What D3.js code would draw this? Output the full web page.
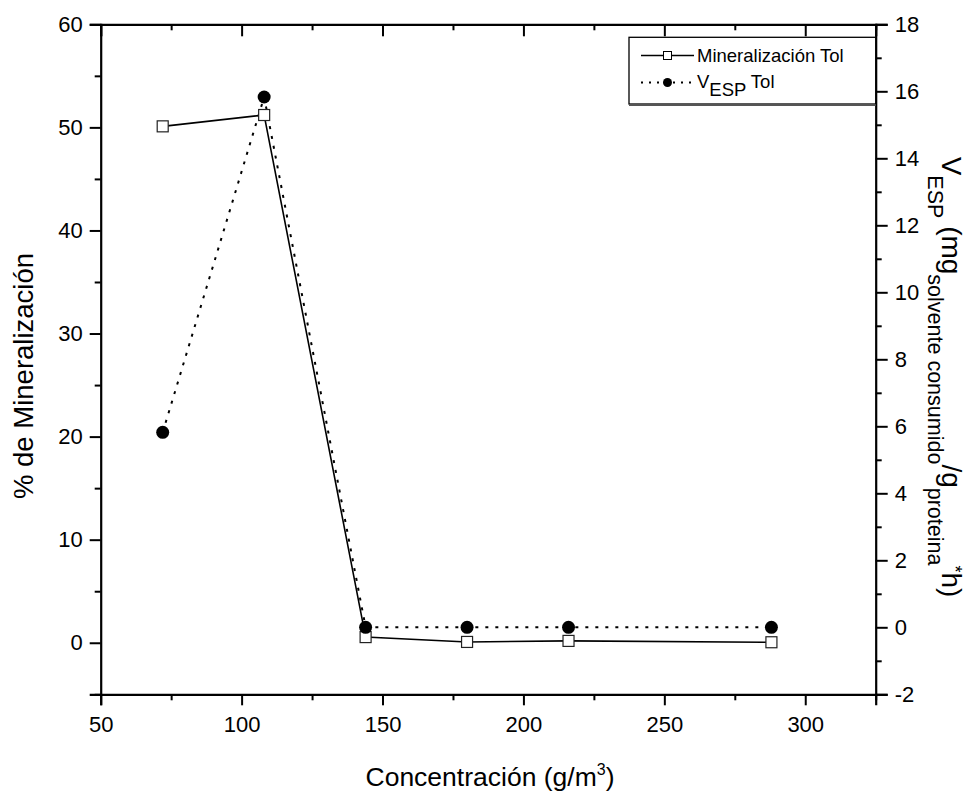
<!DOCTYPE html>
<html><head><meta charset="utf-8">
<script src="https://cdn.jsdelivr.net/npm/d3@7"></script>
<style>
body{margin:0;background:#fff;}
svg{display:block;font-family:"Liberation Sans",Arial,sans-serif;}
</style></head><body>
<svg id="chart" width="969" height="795"></svg>
<script>
const concentrations = [72, 108, 144, 180, 216, 288];
const mineralizacion = [50.1, 51.2, 0.55, 0.08, 0.18, 0.05];
const vEsp = [5.82, 15.83, 0, 0, 0, 0];
const xTicks = [50, 100, 150, 200, 250, 300];
const xMinor = [75, 125, 175, 225, 275, 325];
const yLeftTicks = [0, 10, 20, 30, 40, 50, 60];
const yLeftMinor = [-5, 5, 15, 25, 35, 45, 55];
const yRightTicks = [-2, 0, 2, 4, 6, 8, 10, 12, 14, 16, 18];
const yRightMinor = [-1, 1, 3, 5, 7, 9, 11, 13, 15, 17];

const svg = d3.select("#chart");
const L = 100.7, R = 875.7, T = 24.3, B = 694.3;
const FONT = "'Liberation Sans', Arial, sans-serif";
const x = d3.scaleLinear().domain([50, 325]).range([L, R]);
const yL = d3.scaleLinear().domain([-5, 60]).range([B, T]);
const yR = d3.scaleLinear().domain([-2, 18]).range([B, T]);

function styleAxis(g){
  g.attr("font-family", FONT);
  g.select(".domain").attr("stroke","#000").attr("stroke-width",2.2);
  g.selectAll(".tick line").attr("stroke","#000").attr("stroke-width",2);
  g.selectAll(".tick text").attr("fill","#000").style("font-size","22px").style("font-family",FONT);
}
// bottom
const gB = svg.append("g").attr("transform",`translate(0,${B})`)
  .call(d3.axisBottom(x).tickValues(xTicks).tickSize(11).tickPadding(11).tickFormat(d3.format("d")));
styleAxis(gB);
const gBm = svg.append("g").attr("transform",`translate(0,${B})`)
  .call(d3.axisBottom(x).tickValues(xMinor).tickSize(6).tickFormat(""));
styleAxis(gBm); gBm.select(".domain").remove();
// top
const gT = svg.append("g").attr("transform",`translate(0,${T})`)
  .call(d3.axisBottom(x).tickValues(xTicks).tickSize(12).tickFormat(""));
styleAxis(gT);
const gTm = svg.append("g").attr("transform",`translate(0,${T})`)
  .call(d3.axisBottom(x).tickValues(xMinor).tickSize(6).tickFormat(""));
styleAxis(gTm); gTm.select(".domain").remove();
// left
const gL = svg.append("g").attr("transform",`translate(${L},0)`)
  .call(d3.axisLeft(yL).tickValues(yLeftTicks).tickSize(11).tickPadding(7).tickFormat(d3.format("d")));
styleAxis(gL);
const gLm = svg.append("g").attr("transform",`translate(${L},0)`)
  .call(d3.axisLeft(yL).tickValues(yLeftMinor).tickSize(6).tickFormat(""));
styleAxis(gLm); gLm.select(".domain").remove();
// right
const gR = svg.append("g").attr("transform",`translate(${R},0)`)
  .call(d3.axisRight(yR).tickValues(yRightTicks).tickSize(12).tickPadding(7).tickFormat(d3.format("d")));
styleAxis(gR);
gR.selectAll(".tick text").text(d => d < 0 ? "-" + Math.abs(d) : d);
const gRm = svg.append("g").attr("transform",`translate(${R},0)`)
  .call(d3.axisRight(yR).tickValues(yRightMinor).tickSize(6).tickFormat(""));
styleAxis(gRm); gRm.select(".domain").remove();

// data lines
const mData = concentrations.map((c,i)=>({x:c,y:mineralizacion[i]}));
const vData = concentrations.map((c,i)=>({x:c,y:vEsp[i]}));
svg.append("path").datum(vData)
  .attr("d", d3.line().x(d=>x(d.x)).y(d=>yR(d.y)))
  .attr("fill","none").attr("stroke","#000").attr("stroke-width",2).attr("stroke-dasharray","3,7");
svg.append("path").datum(mData)
  .attr("d", d3.line().x(d=>x(d.x)).y(d=>yL(d.y)))
  .attr("fill","none").attr("stroke","#000").attr("stroke-width",1.6);
svg.selectAll("rect.m").data(mData).enter().append("rect").attr("class","m")
  .attr("x",d=>x(d.x)-5.5).attr("y",d=>yL(d.y)-5.5).attr("width",11).attr("height",11)
  .attr("fill","#fff").attr("stroke","#222").attr("stroke-width",1.2);
svg.selectAll("circle.v").data(vData).enter().append("circle").attr("class","v")
  .attr("cx",d=>x(d.x)).attr("cy",d=>yR(d.y)).attr("r",6.5).attr("fill","#000");

// legend
const lg = svg.append("g").style("font-family",FONT);
lg.append("rect").attr("x",629).attr("y",37.3).attr("width",R-629).attr("height",66.7)
  .attr("fill","#fff").attr("stroke","#000").attr("stroke-width",1.3);
lg.append("line").attr("x1",629).attr("x2",R).attr("y1",105).attr("y2",105).attr("stroke","#555").attr("stroke-width",2);
lg.append("line").attr("x1",641).attr("x2",694).attr("y1",55.5).attr("y2",55.5).attr("stroke","#000").attr("stroke-width",1.5);
lg.append("rect").attr("x",663.5).attr("y",51.5).attr("width",8).attr("height",8).attr("fill","#fff").attr("stroke","#000").attr("stroke-width",1);
lg.append("line").attr("x1",641).attr("x2",694).attr("y1",82.5).attr("y2",82.5).attr("stroke","#000").attr("stroke-width",2).attr("stroke-dasharray","2,6");
lg.append("circle").attr("cx",667.5).attr("cy",82.5).attr("r",4.5).attr("fill","#000");
lg.append("text").attr("x",697).attr("y",62).style("font-size","18.5px").text("Mineralización Tol");
const t2 = lg.append("text").attr("x",697).attr("y",88).style("font-size","18.5px");
t2.append("tspan").text("V");
t2.append("tspan").attr("dy",8).text("ESP");
t2.append("tspan").attr("dy",-8).text(" Tol");

// axis titles
svg.append("text").attr("x",490).attr("y",786).attr("text-anchor","middle").style("font-size","26.5px").style("font-family",FONT)
  .call(t=>{t.append("tspan").text("Concentración (g/m");
            t.append("tspan").attr("dy",-11).style("font-size","16px").text("3");
            t.append("tspan").attr("dy",11).text(")");});
svg.append("text").attr("transform","translate(33,376) rotate(-90)").attr("text-anchor","middle")
  .style("font-size","27.5px").style("font-family",FONT).text("% de Mineralización");
const rt = svg.append("text").attr("transform","translate(942,377) rotate(90)").attr("text-anchor","middle")
  .style("font-size","28px").style("font-family",FONT);
rt.append("tspan").text("V");
rt.append("tspan").attr("dy",14).style("font-size","21.5px").text("ESP");
rt.append("tspan").attr("dy",-14).text(" (mg");
rt.append("tspan").attr("dy",14).style("font-size","21.5px").text("solvente consumido");
rt.append("tspan").attr("dy",-14).text("/g");
rt.append("tspan").attr("dy",14).style("font-size","21.5px").text("proteina");
rt.append("tspan").attr("dy",-21).style("font-size","18px").text("*");
rt.append("tspan").attr("dy",7).text("h)");
</script>
</body></html>
